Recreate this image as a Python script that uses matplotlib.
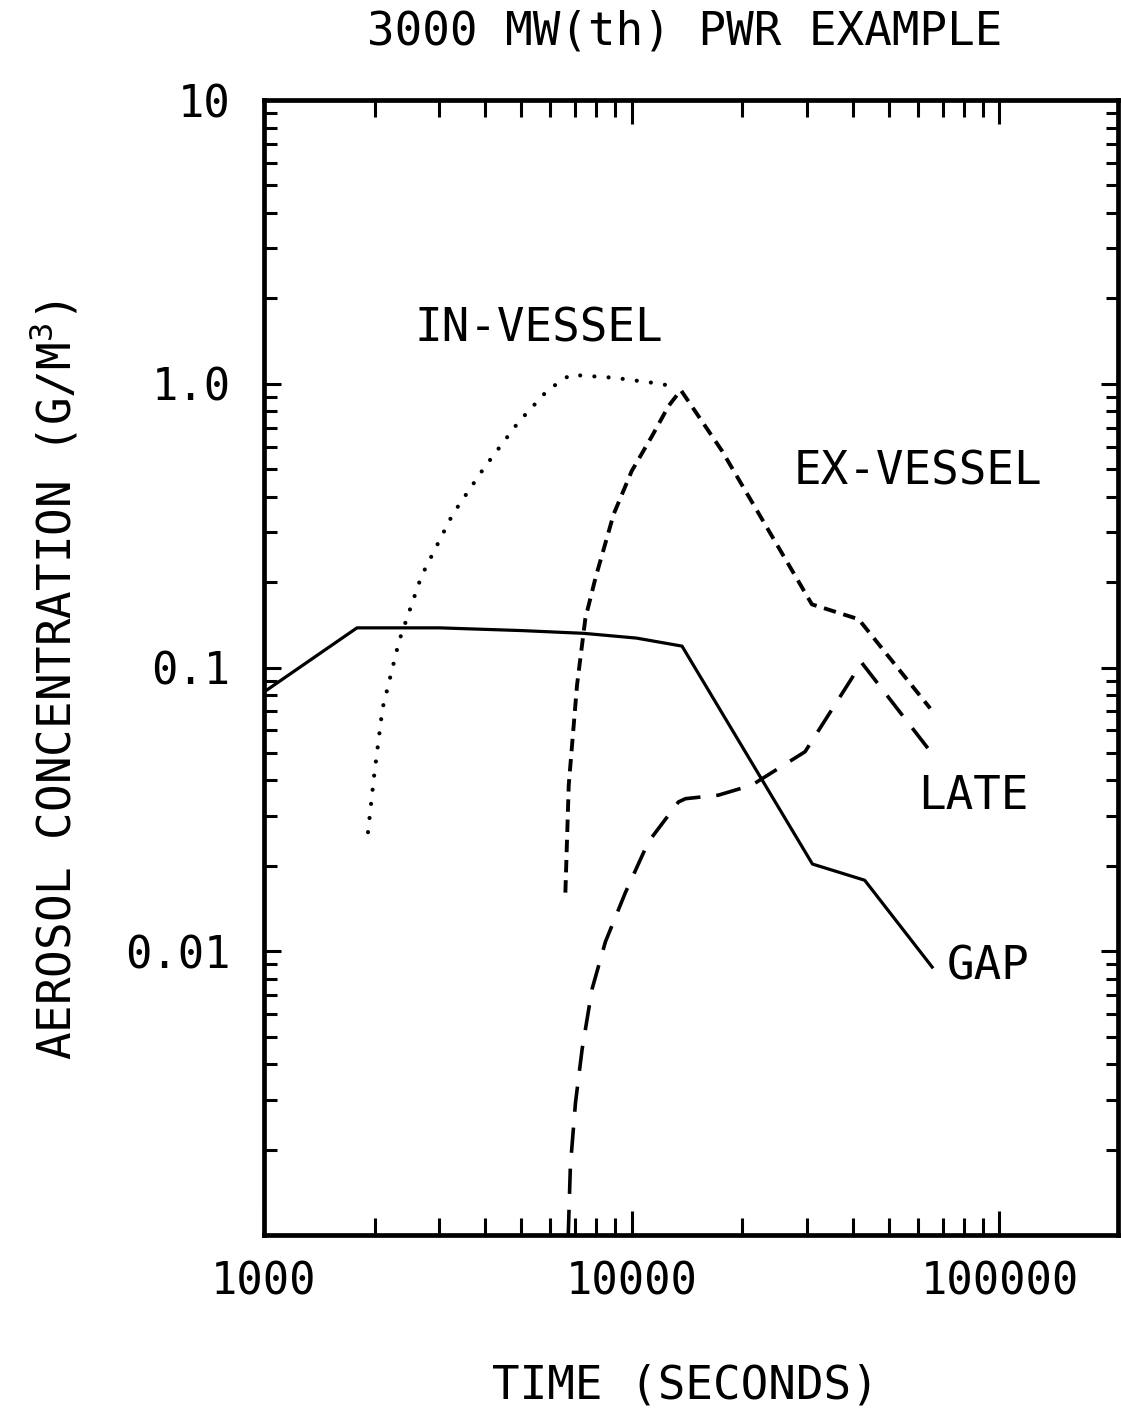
import numpy as np
import matplotlib
matplotlib.use("Agg")
import matplotlib.pyplot as plt
from matplotlib.ticker import FixedLocator, NullFormatter

plt.rcParams['font.family'] = ['DejaVu Sans Mono']
plt.rcParams['mathtext.default'] = 'regular'

# values (time in s, concentration in g/m3)
gap_t = [1000, 1790, 3000, 5000, 7400, 10300, 13700, 31000, 43000, 65600]
gap_c = [0.082, 0.138, 0.138, 0.135, 0.132, 0.127, 0.119, 0.0203, 0.0178, 0.0088]

invessel_t = [1918, 1990, 2100, 2330, 2680, 3260, 3970, 4910, 5910, 6810, 8970, 11970, 13300]
invessel_c = [0.0263, 0.041, 0.0716, 0.124, 0.21, 0.347, 0.506, 0.73, 0.95, 1.076, 1.05, 1.0, 0.97]

exvessel_t = [6600, 6740, 7100, 7480, 7970, 8930, 10000, 11360, 12600, 13600, 17600, 30900, 41400, 64800]
exvessel_c = [0.0161, 0.0385, 0.0868, 0.149, 0.207, 0.347, 0.493, 0.655, 0.836, 0.95, 0.58, 0.167, 0.148, 0.0718]

late_t = [6720, 6810, 7030, 7330, 7800, 8480, 9610, 11100, 13400, 14000, 17200, 21200, 29600, 42200, 65500]
late_c = [0.00100, 0.00175, 0.00292, 0.00452, 0.00736, 0.0108, 0.0161, 0.0243, 0.0336, 0.0345, 0.0355, 0.0385, 0.0505, 0.104, 0.0498]

x_ticks = [1000, 10000, 100000]
x_ticklabels = ["1000", "10000", "100000"]
y_ticks = [0.01, 0.1, 1.0, 10]
y_ticklabels = ["0.01", "0.1", "1.0", "10"]

# curve labels: (text, time, concentration)
curve_labels = [("IN-VESSEL", 5580, 1.56),
                ("EX-VESSEL", 60200, 0.49),
                ("LATE", 85000, 0.035),
                ("GAP", 93400, 0.0088)]

fig = plt.figure(figsize=(11.21, 14.11), dpi=100)
ax = fig.add_axes([0.2355, 0.1247, 0.7618, 0.8044])

ax.plot(gap_t, gap_c, color='black', lw=2.3, solid_joinstyle='round')
ax.plot(invessel_t, invessel_c, color='black', lw=3.0,
        linestyle=(0, (0.01, 3.4)), dash_capstyle='round')
ax.plot(exvessel_t, exvessel_c, color='black', lw=2.8,
        linestyle=(0, (3.2, 2.0)))
ax.plot(late_t, late_c, color='black', lw=2.6,
        linestyle=(0, (7.0, 4.4)))

ax.set_xscale('log')
ax.set_yscale('log')
ax.set_xlim(1000, 2.1e5)
ax.set_ylim(0.001, 10)

ax.xaxis.set_major_locator(FixedLocator(x_ticks))
ax.set_xticklabels(x_ticklabels)
ax.xaxis.set_minor_locator(FixedLocator([m * d for d in (1000, 10000) for m in range(2, 10)]))
ax.xaxis.set_minor_formatter(NullFormatter())

ax.yaxis.set_major_locator(FixedLocator(y_ticks))
ax.set_yticklabels(y_ticklabels)
ax.yaxis.set_minor_locator(FixedLocator([m * d for d in (0.001, 0.01, 0.1, 1) for m in range(2, 10)]))
ax.yaxis.set_minor_formatter(NullFormatter())

ax.tick_params(axis='both', which='both', direction='in', top=True, right=True,
               width=2.2, labelsize=31.5)
ax.tick_params(axis='x', which='major', length=17, pad=18)
ax.tick_params(axis='x', which='minor', length=12)
ax.tick_params(axis='y', which='major', length=12, pad=24)
ax.tick_params(axis='y', which='minor', length=9)

for s in ax.spines.values():
    s.set_linewidth(3.4)

for txt, tx, ty in curve_labels:
    ax.text(tx, ty, txt, fontsize=33, ha='center', va='center')

ax.set_title("3000 MW(th) PWR EXAMPLE", fontsize=33, pad=40, x=0.493)
ax.set_xlabel("TIME (SECONDS)", fontsize=33, va='center')
ax.xaxis.set_label_coords(0.493, -0.133)
fig.text(0.049, 0.518, "AEROSOL CONCENTRATION (G/M$^3$)", fontsize=33,
         rotation=90, ha='center', va='center')

fig.savefig("out.png", dpi=100, facecolor='white')
